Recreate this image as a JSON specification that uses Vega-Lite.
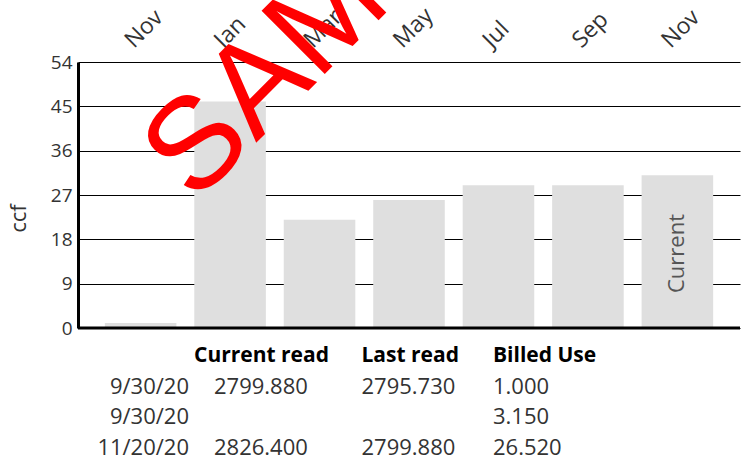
{
  "$schema": "https://vega.github.io/schema/vega-lite/v6.json",
  "autosize": {"type": "none"},
  "padding": {"left": 78, "top": 62, "right": 669, "bottom": 397},
  "background": "white",
  "bounds": "flush",
  "spacing": 13,
  "config": {
    "font": "Open Sans",
    "view": {"stroke": null}
  },
  "vconcat": [
    {
      "width": 662,
      "height": 266,
      "data": {
        "values": [
          {"period": "Nov 2019", "usage": 1},
          {"period": "Jan 2020", "usage": 46},
          {"period": "Mar 2020", "usage": 22},
          {"period": "May 2020", "usage": 26},
          {"period": "Jul 2020", "usage": 29},
          {"period": "Sep 2020", "usage": 29},
          {"period": "Nov 2020", "usage": 31, "note": "Current"}
        ]
      },
      "layer": [
        {
          "mark": {"type": "bar", "color": "#dfdfdf"},
          "encoding": {
            "x": {
              "field": "period",
              "type": "ordinal",
              "sort": null,
              "scale": {
                "domain": ["Nov 2019", "Jan 2020", "Mar 2020", "May 2020", "Jul 2020", "Sep 2020", "Nov 2020"],
                "paddingInner": 0.2,
                "paddingOuter": 0.3
              },
              "axis": {
                "orient": "top",
                "title": null,
                "domain": false,
                "ticks": false,
                "grid": false,
                "labelAngle": -45,
                "labelFontSize": 23,
                "labelColor": "#333333",
                "labelPadding": 10,
                "labelOffset": -3,
                "labelExpr": "substring(datum.label, 0, 3)"
              }
            },
            "y": {
              "field": "usage",
              "type": "quantitative",
              "scale": {"domain": [0, 54], "nice": false},
              "axis": {
                "values": [0, 9, 18, 27, 36, 45, 54],
                "title": "ccf",
                "titleFontSize": 22,
                "titleFontWeight": "normal",
                "titleColor": "#333333",
                "titlePadding": 20,
                "titleY": 156,
                "labelFontSize": 19,
                "labelColor": "#333333",
                "labelPadding": 6,
                "ticks": false,
                "domain": true,
                "domainColor": "black",
                "domainWidth": 3,
                "grid": true,
                "gridColor": "black",
                "gridOpacity": 1,
                "gridWidth": 1
              }
            }
          }
        },
        {
          "data": {"values": [{"base": 0}]},
          "mark": {"type": "rule", "color": "black", "strokeWidth": 3},
          "encoding": {"y": {"field": "base", "type": "quantitative"}}
        },
        {
          "transform": [{"filter": "datum.note"}],
          "mark": {
            "type": "text",
            "angle": 270,
            "align": "left",
            "baseline": "middle",
            "dx": 35,
            "fontSize": 22,
            "color": "#555555"
          },
          "encoding": {
            "x": {"field": "period", "type": "ordinal"},
            "y": {"datum": 0, "type": "quantitative"},
            "text": {"field": "note"}
          }
        },
        {
          "data": {"values": [{"word": "SAMPLE"}]},
          "mark": {
            "type": "text",
            "angle": 315,
            "align": "left",
            "baseline": "alphabetic",
            "font": "Liberation Sans",
            "fontSize": 130,
            "dx": -50,
            "color": "#ff0000"
          },
          "encoding": {
            "x": {"datum": "Jan 2020", "type": "ordinal"},
            "y": {"datum": 32.3, "type": "quantitative"},
            "text": {"field": "word"}
          }
        }
      ]
    },
    {
      "width": 531,
      "height": 122,
      "data": {
        "values": [
          {"row": "r1", "date": "9/30/20", "Current read": "2799.880", "Last read": "2795.730", "Billed Use": "1.000"},
          {"row": "r2", "date": "9/30/20", "Current read": "", "Last read": "", "Billed Use": "3.150"},
          {"row": "r3", "date": "11/20/20", "Current read": "2826.400", "Last read": "2799.880", "Billed Use": "26.520"}
        ]
      },
      "layer": [
        {
          "transform": [{"fold": ["Current read", "Last read", "Billed Use"], "as": ["col", "val"]}],
          "mark": {
            "type": "text",
            "align": "left",
            "baseline": "middle",
            "fontSize": 22,
            "color": "#333333",
            "dx": {"expr": "datum.col === 'Current read' ? 20 : (datum.col === 'Last read' ? 18 : 0)"}
          },
          "encoding": {
            "x": {
              "field": "col",
              "type": "nominal",
              "axis": null,
              "scale": {"type": "point", "domain": ["Current read", "Last read", "Billed Use"], "padding": 0.776}
            },
            "y": {
              "field": "row",
              "type": "ordinal",
              "axis": null,
              "scale": {"type": "point", "domain": ["h", "r1", "r2", "r3"], "padding": 0.5}
            },
            "text": {"field": "val"}
          }
        },
        {
          "transform": [
            {"filter": "datum.row === 'r1'"},
            {"fold": ["Current read", "Last read", "Billed Use"], "as": ["col", "val"]}
          ],
          "mark": {
            "type": "text",
            "align": "left",
            "baseline": "middle",
            "fontSize": 21,
            "fontWeight": "bold",
            "color": "black",
            "dx": {"expr": "datum.col === 'Last read' ? 18 : 0"}
          },
          "encoding": {
            "x": {"field": "col", "type": "nominal"},
            "y": {"datum": "h", "type": "ordinal"},
            "text": {"field": "col"}
          }
        },
        {
          "mark": {
            "type": "text",
            "align": "right",
            "baseline": "middle",
            "fontSize": 22,
            "color": "#333333",
            "dx": -5
          },
          "encoding": {
            "x": {"datum": "Current read", "type": "nominal"},
            "y": {"field": "row", "type": "ordinal"},
            "text": {"field": "date"}
          }
        }
      ]
    }
  ]
}
